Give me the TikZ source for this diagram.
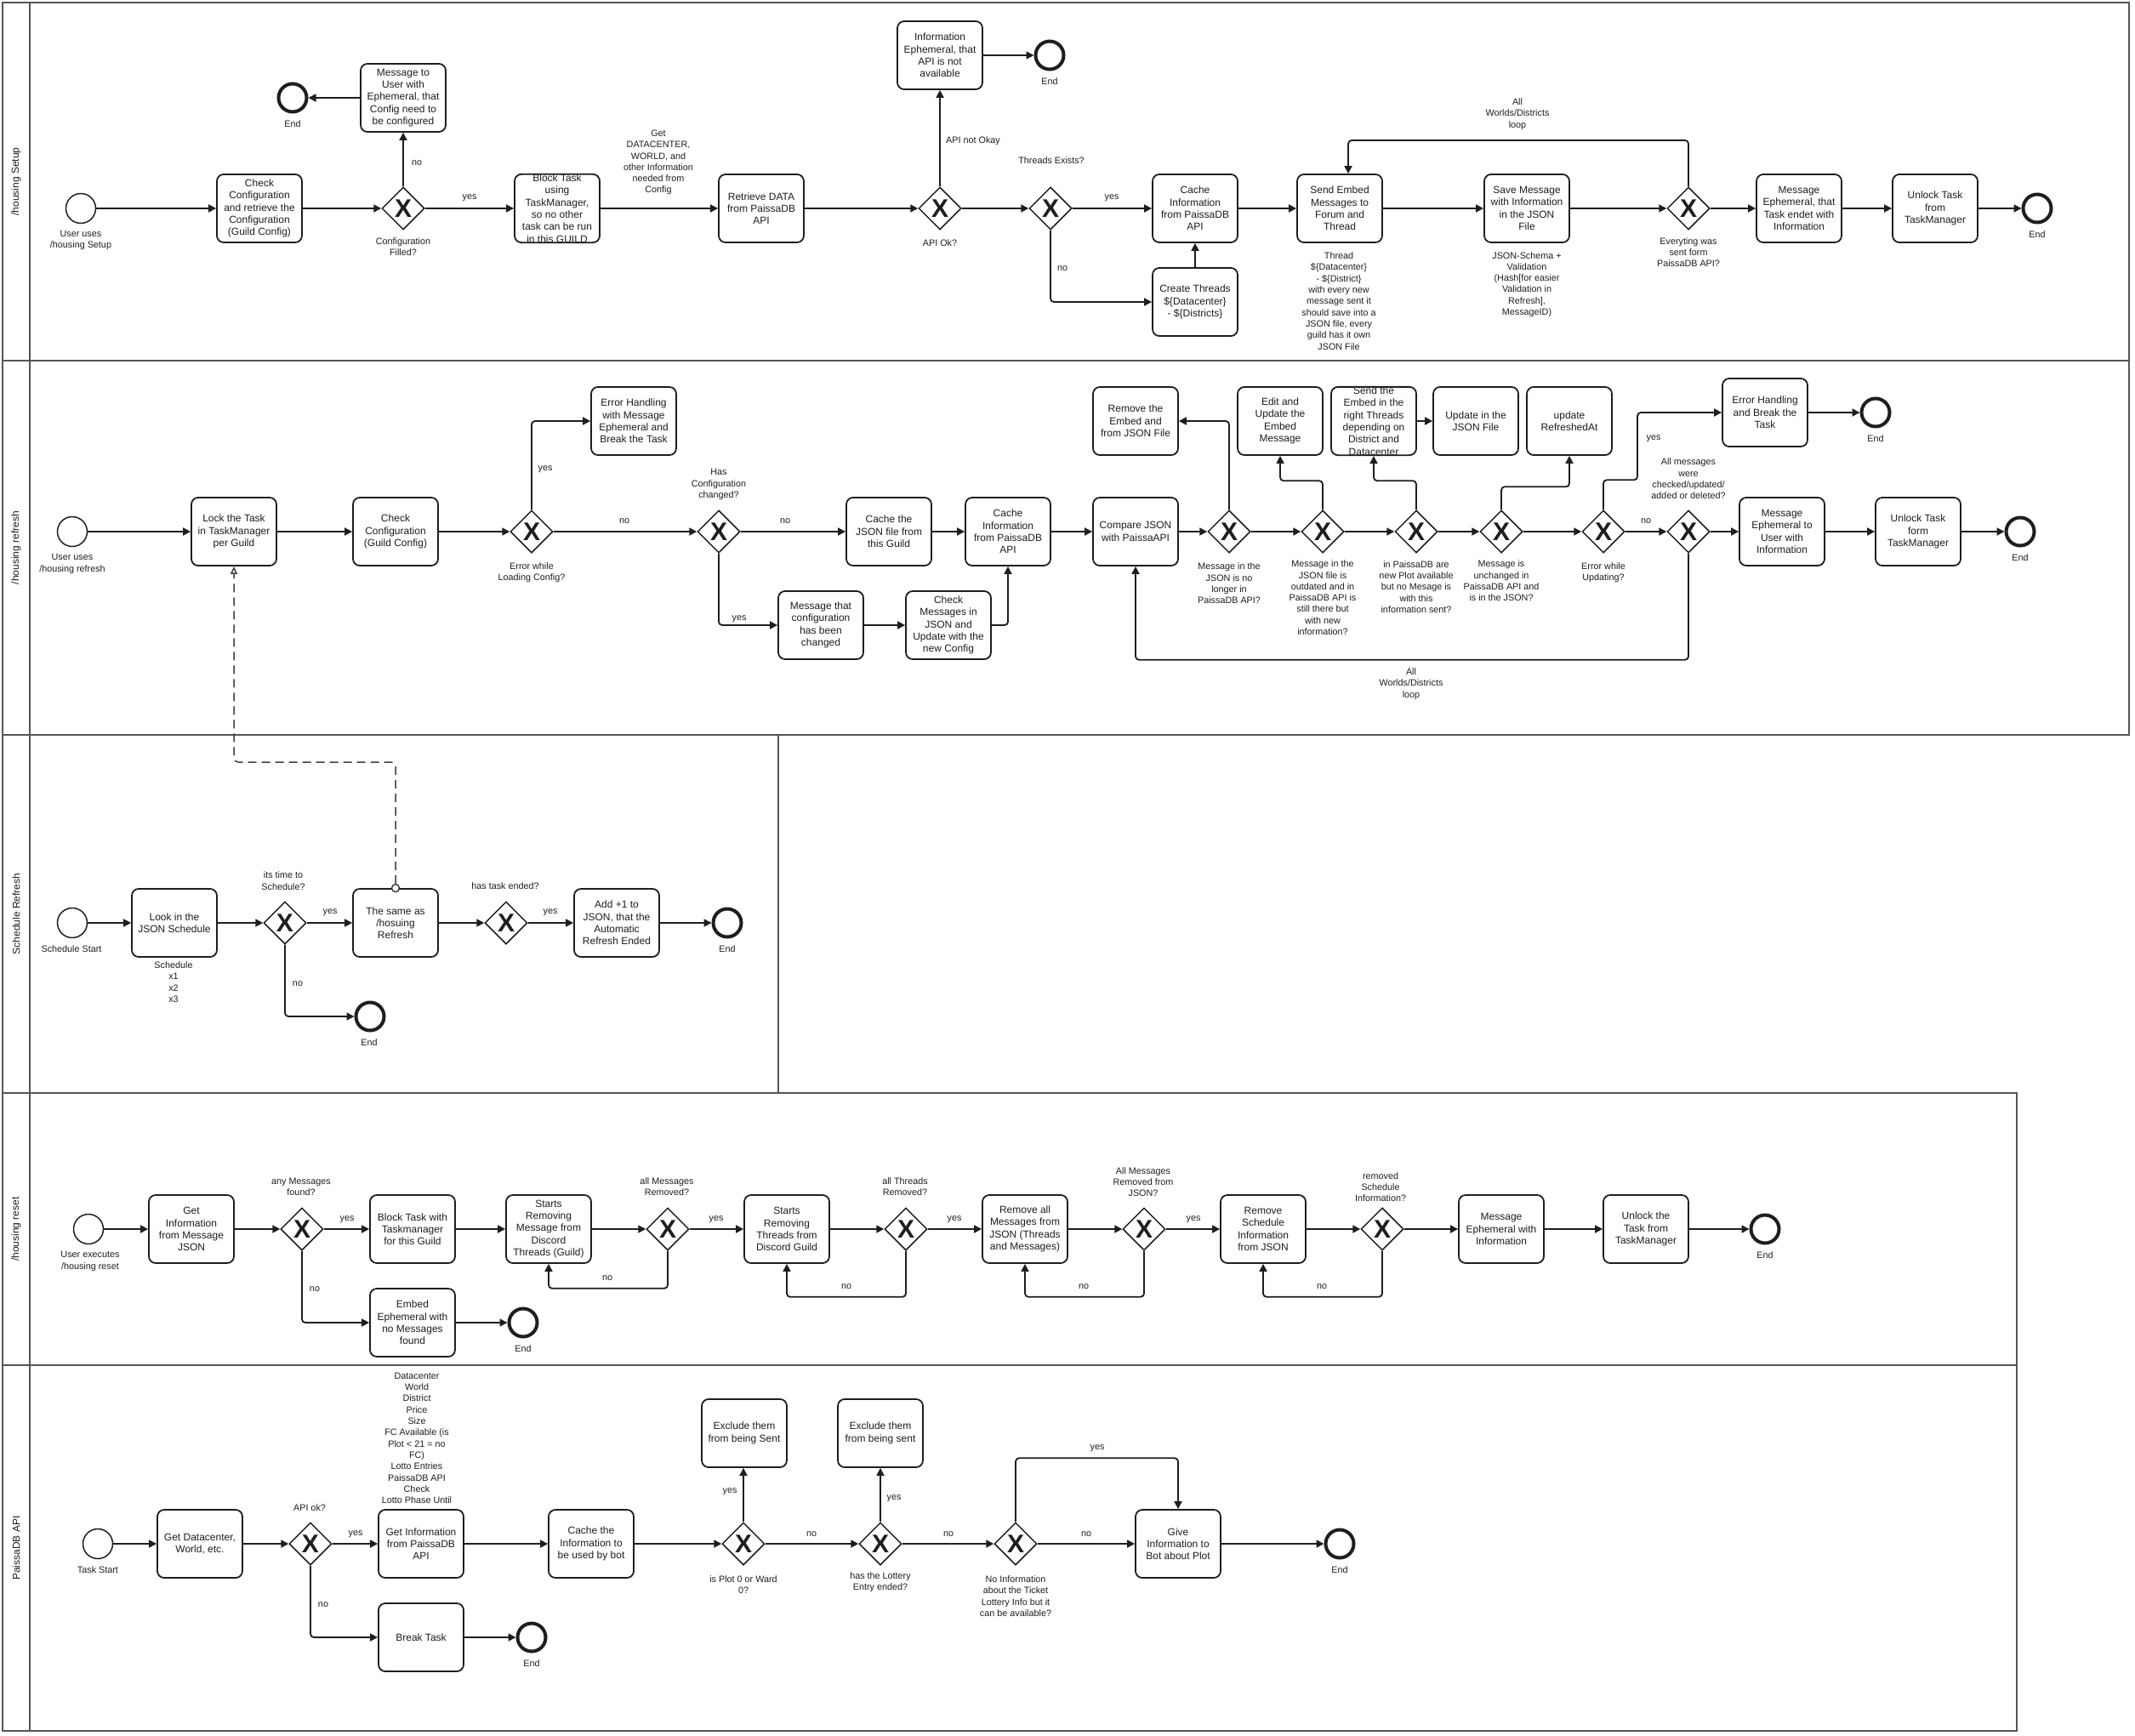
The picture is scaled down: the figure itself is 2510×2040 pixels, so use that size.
\documentclass[tikz,border=0pt]{standalone}
\usepackage{fontspec}
\setmainfont{Liberation Sans}
\usetikzlibrary{shapes.geometric,arrows.meta}
\newcommand\boxfs{\fontsize{12}{14.3}\selectfont}
\newcommand\lblfs{\fontsize{10.8}{13.3}\selectfont}
\newcommand\gwfs{\fontsize{30}{30}\selectfont\bfseries}
\definecolor{ink}{HTML}{1E1E1E}
\definecolor{lanec}{HTML}{555555}
\begin{document}
\begin{tikzpicture}[x=1pt,y=-1pt,
 task/.style={draw=ink, line width=1.8pt, rounded corners=8pt, minimum width=100pt, minimum height=80pt, align=center, font=\boxfs, inner sep=0pt, text=ink, fill=white},
 gw/.style={diamond, draw=ink, line width=1.5pt, minimum width=50pt, minimum height=50pt, inner sep=0pt, font=\gwfs, text=ink, fill=white},
 startev/.style={circle, draw=ink, line width=1.5pt, minimum size=35pt, inner sep=0pt, fill=white},
 endev/.style={circle, draw=ink, line width=4pt, minimum size=33pt, inner sep=0pt, fill=white},
 lbl/.style={align=center, font=\lblfs, text=ink, inner sep=0pt},
 seq/.style={draw=ink, line width=1.8pt, -{Triangle[length=9pt,width=9pt]}, rounded corners=4pt},
 msgflow/.style={draw=ink!85, line width=1.5pt, dash pattern=on 10pt off 6pt, -{Triangle[open,length=9pt,width=8pt,fill=white]}, rounded corners=5pt},
 lanebox/.style={draw=lanec, line width=2pt},
 lanetitle/.style={rotate=90, font=\fontsize{12}{14}\selectfont, text=ink, inner sep=0pt}]
\useasboundingbox (0,0) rectangle (2510,2040);
\fill[white] (0,0) rectangle (2510,2040);
% ---------------- lanes
\draw[lanebox] (3,3) rectangle (2503,424);
\draw[lanebox] (3,424) rectangle (2503,864);
\draw[lanebox] (3,864) rectangle (915,1285);
\draw[lanebox] (3,1285) rectangle (2371,1605);
\draw[lanebox] (3,1605) rectangle (2371,2035);
\draw[lanebox] (35,3) -- (35,2035);
\node[lanetitle] (t1) at (19,213.5) {/housing Setup};
\node[lanetitle] (t2) at (19,644) {/housing refresh};
\node[lanetitle] (t3) at (19,1074.5) {Schedule Refresh};
\node[lanetitle] (t4) at (19,1445) {/housing reset};
\node[lanetitle] (t5) at (19,1820) {PaissaDB API};

% ---------------- lane 1
\node[startev] (st1) at (95,245) {};
\node[task] (chk1) at (305,245) {Check\\Configuration\\and retrieve the\\Configuration\\(Guild Config)};
\node[gw] (gw1a) at (474,245) {X};
\node[task] (msg1) at (474,115) {Message to\\User with\\Ephemeral, that\\Config need to\\be configured};
\node[endev] (end1a) at (344,115) {};
\node[task] (blk1) at (655,245) {Block Task\\using\\TaskManager,\\so no other\\task can be run\\in this GUILD};
\node[task] (ret1) at (895,245) {Retrieve DATA\\from PaissaDB\\API};
\node[gw] (gw1b) at (1105,245) {X};
\node[task] (info1) at (1105,65) {Information\\Ephemeral, that\\API is not\\available};
\node[endev] (end1b) at (1234,65) {};
\node[gw] (gw1c) at (1235,245) {X};
\node[task] (cache1) at (1405,245) {Cache\\Information\\from PaissaDB\\API};
\node[task] (crt1) at (1405,355) {Create Threads\\\$\{Datacenter\}\\- \$\{Districts\}};
\node[task] (send1) at (1575,245) {Send Embed\\Messages to\\Forum and\\Thread};
\node[task] (save1) at (1795,245) {Save Message\\with Information\\in the JSON\\File};
\node[gw] (gw1d) at (1985,245) {X};
\node[task] (mep1) at (2115,245) {Message\\Ephemeral, that\\Task endet with\\Information};
\node[task] (unl1) at (2275,245) {Unlock Task\\from\\TaskManager};
\node[endev] (end1c) at (2395,245) {};

\node[lbl] (a1) at (95,282.5) {User uses\\/housing Setup};
\node[lbl] (a2) at (344,146) {End};
\node[lbl] (a3) at (490,192) {no};
\node[lbl] (a4) at (474,290) {Configuration\\Filled?};
\node[lbl] (a5) at (552,233) {yes};
\node[lbl] (a6) at (774,191) {Get\\DATACENTER,\\WORLD, and\\other Information\\needed from\\Config};
\node[lbl] (a7) at (1144,166) {API not Okay};
\node[lbl] (a8) at (1105,286) {API Ok?};
\node[lbl] (a9) at (1234,96) {End};
\node[lbl] (a10) at (1236,189) {Threads Exists?};
\node[lbl] (a11) at (1307,233) {yes};
\node[lbl] (a12) at (1249,316) {no};
\node[lbl] (a13) at (1574,354) {Thread\\\$\{Datacenter\}\\- \$\{District\}\\with every new\\message sent it\\should save into a\\JSON file, every\\guild has it own\\JSON File};
\node[lbl] (a14) at (1795,334.5) {JSON-Schema +\\Validation\\(Hash[for easier\\Validation in\\Refresh],\\MessageID)};
\node[lbl] (a15) at (1985,296.5) {Everyting was\\sent form\\PaissaDB API?};
\node[lbl] (a16) at (1784,134) {All\\Worlds/Districts\\loop};
\node[lbl] (a17) at (2395,276) {End};

\draw[seq] (st1) -- (chk1);
\draw[seq] (chk1) -- (gw1a);
\draw[seq] (gw1a) -- (msg1);
\draw[seq] (msg1) -- (end1a);
\draw[seq] (gw1a) -- (blk1);
\draw[seq] (blk1) -- (ret1);
\draw[seq] (ret1) -- (gw1b);
\draw[seq] (gw1b) -- (info1);
\draw[seq] (info1) -- (end1b);
\draw[seq] (gw1b) -- (gw1c);
\draw[seq] (gw1c) -- (cache1);
\draw[seq] (gw1c.south) |- (crt1.west);
\draw[seq] (crt1) -- (cache1);
\draw[seq] (cache1) -- (send1);
\draw[seq] (send1) -- (save1);
\draw[seq] (save1) -- (gw1d);
\draw[seq] (gw1d) -- (mep1);
\draw[seq] (mep1) -- (unl1);
\draw[seq] (unl1) -- (end1c);
\coordinate (lp1) at (1585,165);
\draw[seq] (gw1d.north) |- (lp1) -- (lp1 |- send1.north);

% ---------------- lane 2
\node[startev] (st2) at (85,625) {};
\node[task] (lock2) at (275,625) {Lock the Task\\in TaskManager\\per Guild};
\node[task] (chk2) at (465,625) {Check\\Configuration\\(Guild Config)};
\node[gw] (gw2a) at (625,625) {X};
\node[task] (err2) at (745,495) {Error Handling\\with Message\\Ephemeral and\\Break the Task};
\node[gw] (gw2b) at (845,625) {X};
\node[task] (cjs2) at (1045,625) {Cache the\\JSON file from\\this Guild};
\node[task] (cinf2) at (1185,625) {Cache\\Information\\from PaissaDB\\API};
\node[task] (mcc2) at (965,735) {Message that\\configuration\\has been\\changed};
\node[task] (cmj2) at (1115,735) {Check\\Messages in\\JSON and\\Update with the\\new Config};
\node[task] (cmp2) at (1335,625) {Compare JSON\\with PaissaAPI};
\node[task] (rem2) at (1335,495) {Remove the\\Embed and\\from JSON File};
\node[gw] (gw2c) at (1445,625) {X};
\node[gw] (gw2d) at (1555,625) {X};
\node[task] (edit2) at (1505,495) {Edit and\\Update the\\Embed\\Message};
\node[gw] (gw2e) at (1665,625) {X};
\node[task] (sent2) at (1615,495) {Send the\\Embed in the\\right Threads\\depending on\\District and\\Datacenter};
\node[task] (upd2) at (1735,495) {Update in the\\JSON File};
\node[gw] (gw2f) at (1765,625) {X};
\node[task] (ref2) at (1845,495) {update\\RefreshedAt};
\node[gw] (gw2g) at (1885,625) {X};
\node[task] (errb2) at (2075,485) {Error Handling\\and Break the\\Task};
\node[endev] (end2a) at (2205,485) {};
\node[gw] (gw2h) at (1985,625) {X};
\node[task] (mep2) at (2095,625) {Message\\Ephemeral to\\User with\\Information};
\node[task] (unl2) at (2255,625) {Unlock Task\\form\\TaskManager};
\node[endev] (end2b) at (2375,625) {};

\node[lbl] (b1) at (85,663) {User uses\\/housing refresh};
\node[lbl] (b2) at (625,673) {Error while\\Loading Config?};
\node[lbl] (b3) at (641,552) {yes};
\node[lbl] (b4) at (734,613) {no};
\node[lbl] (b5) at (845,569.5) {Has\\Configuration\\changed?};
\node[lbl] (b6) at (923,613) {no};
\node[lbl] (b7) at (869,728) {yes};
\node[lbl] (b8) at (1445,686) {Message in the\\JSON is no\\longer in\\PaissaDB API?};
\node[lbl] (b9) at (1555,702.8) {Message in the\\JSON file is\\outdated and in\\PaissaDB API is\\still there but\\with new\\information?};
\node[lbl] (b10) at (1665,690) {in PaissaDB are\\new Plot available\\but no Mesage is\\with this\\information sent?};
\node[lbl] (b11) at (1765,683) {Message is\\unchanged in\\PaissaDB API and\\is in the JSON?};
\node[lbl] (b12) at (1885,673) {Error while\\Updating?};
\node[lbl] (b13) at (1944,516) {yes};
\node[lbl] (b14) at (1935,613) {no};
\node[lbl] (b15) at (1985,563) {All messages\\were\\checked/updated/\\added or deleted?};
\node[lbl] (b16) at (2205,516) {End};
\node[lbl] (b17) at (2375,656) {End};
\node[lbl] (b18) at (1659,804) {All\\Worlds/Districts\\loop};

\draw[seq] (st2) -- (lock2);
\draw[seq] (lock2) -- (chk2);
\draw[seq] (chk2) -- (gw2a);
\draw[seq] (gw2a.north) |- (err2.west);
\draw[seq] (gw2a) -- (gw2b);
\draw[seq] (gw2b) -- (cjs2);
\draw[seq] (gw2b.south) |- (mcc2.west);
\draw[seq] (mcc2) -- (cmj2);
\draw[seq] (cmj2.east) -| (cinf2.south);
\draw[seq] (cjs2) -- (cinf2);
\draw[seq] (cinf2) -- (cmp2);
\draw[seq] (cmp2) -- (gw2c);
\draw[seq] (gw2c.north) |- (rem2.east);
\draw[seq] (gw2c) -- (gw2d);
\draw[seq] (gw2d.north) -- ++(0,-34) -| (edit2.south);
\draw[seq] (gw2d) -- (gw2e);
\draw[seq] (gw2e.north) -- ++(0,-34) -| (sent2.south);
\draw[seq] (sent2) -- (upd2);
\draw[seq] (gw2e) -- (gw2f);
\draw[seq] (gw2f.north) -- ++(0,-27) -| (ref2.south);
\draw[seq] (gw2f) -- (gw2g);
\draw[seq] (gw2g.north) -- ++(0,-35) -- ++(40,0) |- (errb2.west);
\draw[seq] (errb2) -- (end2a);
\draw[seq] (gw2g) -- (gw2h);
\draw[seq] (gw2h) -- (mep2);
\draw[seq] (mep2) -- (unl2);
\draw[seq] (unl2) -- (end2b);
\draw[seq] (gw2h.south) -- ++(0,125) -| (cmp2.south);

% ---------------- lane 3
\node[startev] (st3) at (85,1085) {};
\node[task] (look3) at (205,1085) {Look in the\\JSON Schedule};
\node[gw] (gw3a) at (335,1085) {X};
\node[task] (same3) at (465,1085) {The same as\\/hosuing\\Refresh};
\node[endev] (end3a) at (435,1195) {};
\node[gw] (gw3b) at (595,1085) {X};
\node[task] (add3) at (725,1085) {Add +1 to\\JSON, that the\\Automatic\\Refresh Ended};
\node[endev] (end3b) at (855,1085) {};
\node[circle, draw=ink, line width=1.2pt, fill=white, minimum size=9pt, inner sep=0pt] (mfs) at (same3.north) {};

\node[lbl] (c1) at (84,1116) {Schedule Start};
\node[lbl] (c2) at (204,1154.5) {Schedule\\x1\\x2\\x3};
\node[lbl] (c3) at (333,1035.5) {its time to\\Schedule?};
\node[lbl] (c4) at (388,1073) {yes};
\node[lbl] (c5) at (350,1157) {no};
\node[lbl] (c6) at (434,1226) {End};
\node[lbl] (c7) at (594,1042) {has task ended?};
\node[lbl] (c8) at (647,1073) {yes};
\node[lbl] (c9) at (855,1116) {End};

\draw[seq] (st3) -- (look3);
\draw[seq] (look3) -- (gw3a);
\draw[seq] (gw3a) -- (same3);
\draw[seq] (gw3a.south) |- (end3a.west);
\draw[seq] (same3) -- (gw3b);
\draw[seq] (gw3b) -- (add3);
\draw[seq] (add3) -- (end3b);
\coordinate (mf1) at (465,896);
\coordinate (mf2) at (275,896);
\draw[msgflow] (mfs.north) -- (mf1) -- (mf2) -- (lock2.south);

% ---------------- lane 4
\node[startev] (st4) at (104,1445) {};
\node[task] (get4) at (225,1445) {Get\\Information\\from Message\\JSON};
\node[gw] (gw4a) at (355,1445) {X};
\node[task] (blk4) at (485,1445) {Block Task with\\Taskmanager\\for this Guild};
\node[task] (emb4) at (485,1555) {Embed\\Ephemeral with\\no Messages\\found};
\node[endev] (end4a) at (615,1555) {};
\node[task] (srm4) at (645,1445) {Starts\\Removing\\Message from\\Discord\\Threads (Guild)};
\node[gw] (gw4b) at (785,1445) {X};
\node[task] (srt4) at (925,1445) {Starts\\Removing\\Threads from\\Discord Guild};
\node[gw] (gw4c) at (1065,1445) {X};
\node[task] (ram4) at (1205,1445) {Remove all\\Messages from\\JSON (Threads\\and Messages)};
\node[gw] (gw4d) at (1345,1445) {X};
\node[task] (rsc4) at (1485,1445) {Remove\\Schedule\\Information\\from JSON};
\node[gw] (gw4e) at (1625,1445) {X};
\node[task] (mep4) at (1765,1445) {Message\\Ephemeral with\\Information};
\node[task] (unl4) at (1935,1445) {Unlock the\\Task from\\TaskManager};
\node[endev] (end4b) at (2075,1445) {};

\node[lbl] (d1) at (106,1483) {User executes\\/housing reset};
\node[lbl] (d2) at (354,1395) {any Messages\\found?};
\node[lbl] (d3) at (408,1434) {yes};
\node[lbl] (d4) at (370,1516) {no};
\node[lbl] (d5) at (615,1586) {End};
\node[lbl] (d6) at (784,1395) {all Messages\\Removed?};
\node[lbl] (d7) at (714,1503) {no};
\node[lbl] (d8) at (842,1434) {yes};
\node[lbl] (d9) at (1064,1395) {all Threads\\Removed?};
\node[lbl] (d10) at (995,1513) {no};
\node[lbl] (d11) at (1122,1434) {yes};
\node[lbl] (d12) at (1344,1389.5) {All Messages\\Removed from\\JSON?};
\node[lbl] (d13) at (1274,1513) {no};
\node[lbl] (d14) at (1403,1434) {yes};
\node[lbl] (d15) at (1623,1395.5) {removed\\Schedule\\Information?};
\node[lbl] (d16) at (1554,1513) {no};
\node[lbl] (d17) at (2075,1476) {End};

\draw[seq] (st4) -- (get4);
\draw[seq] (get4) -- (gw4a);
\draw[seq] (gw4a) -- (blk4);
\draw[seq] (gw4a.south) |- (emb4.west);
\draw[seq] (emb4) -- (end4a);
\draw[seq] (blk4) -- (srm4);
\draw[seq] (srm4) -- (gw4b);
\draw[seq] (gw4b.south) -- ++(0,44) -| (srm4.south);
\draw[seq] (gw4b) -- (srt4);
\draw[seq] (srt4) -- (gw4c);
\draw[seq] (gw4c.south) -- ++(0,54) -| (srt4.south);
\draw[seq] (gw4c) -- (ram4);
\draw[seq] (ram4) -- (gw4d);
\draw[seq] (gw4d.south) -- ++(0,54) -| (ram4.south);
\draw[seq] (gw4d) -- (rsc4);
\draw[seq] (rsc4) -- (gw4e);
\draw[seq] (gw4e.south) -- ++(0,54) -| (rsc4.south);
\draw[seq] (gw4e) -- (mep4);
\draw[seq] (mep4) -- (unl4);
\draw[seq] (unl4) -- (end4b);

% ---------------- lane 5
\node[startev] (st5) at (115,1815) {};
\node[task] (get5) at (235,1815) {Get Datacenter,\\World, etc.};
\node[gw] (gw5a) at (365,1815) {X};
\node[task] (gi5) at (495,1815) {Get Information\\from PaissaDB\\API};
\node[task] (brk5) at (495,1925) {Break Task};
\node[endev] (end5a) at (625,1925) {};
\node[task] (cach5) at (695,1815) {Cache the\\Information to\\be used by bot};
\node[gw] (gw5b) at (874,1815) {X};
\node[task] (exc5a) at (875,1685) {Exclude them\\from being Sent};
\node[gw] (gw5c) at (1035,1815) {X};
\node[task] (exc5b) at (1035,1685) {Exclude them\\from being sent};
\node[gw] (gw5d) at (1194,1815) {X};
\node[task] (give5) at (1385,1815) {Give\\Information to\\Bot about Plot};
\node[endev] (end5b) at (1575,1815) {};

\node[lbl] (e1) at (115,1846) {Task Start};
\node[lbl] (e2) at (364,1773) {API ok?};
\node[lbl] (e3) at (418,1804) {yes};
\node[lbl] (e4) at (490,1690.8) {Datacenter\\World\\District\\Price\\Size\\FC Available (is\\Plot < 21 = no\\FC)\\Lotto Entries\\PaissaDB API\\Check\\Lotto Phase Until};
\node[lbl] (e5) at (380,1887) {no};
\node[lbl] (e6) at (625,1956) {End};
\node[lbl] (e7) at (858,1754) {yes};
\node[lbl] (e8) at (954,1804) {no};
\node[lbl] (e9) at (874,1863) {is Plot 0 or Ward\\0?};
\node[lbl] (e10) at (1051,1762) {yes};
\node[lbl] (e11) at (1115,1804) {no};
\node[lbl] (e12) at (1035,1860) {has the Lottery\\Entry ended?};
\node[lbl] (e13) at (1194,1876.5) {No Information\\about the Ticket\\Lottery Info but it\\can be available?};
\node[lbl] (e14) at (1290,1703) {yes};
\node[lbl] (e15) at (1277,1804) {no};
\node[lbl] (e16) at (1575,1846) {End};

\draw[seq] (st5) -- (get5);
\draw[seq] (get5) -- (gw5a);
\draw[seq] (gw5a) -- (gi5);
\draw[seq] (gw5a.south) |- (brk5.west);
\draw[seq] (brk5) -- (end5a);
\draw[seq] (gi5) -- (cach5);
\draw[seq] (cach5) -- (gw5b);
\draw[seq] (gw5b.north) -- (gw5b.north |- exc5a.south);
\draw[seq] (gw5b) -- (gw5c);
\draw[seq] (gw5c) -- (exc5b);
\draw[seq] (gw5c) -- (gw5d);
\draw[seq] (gw5d.north) -- ++(0,-75) -| (give5.north);
\draw[seq] (gw5d) -- (give5);
\draw[seq] (give5) -- (end5b);
\end{tikzpicture}
\end{document}
